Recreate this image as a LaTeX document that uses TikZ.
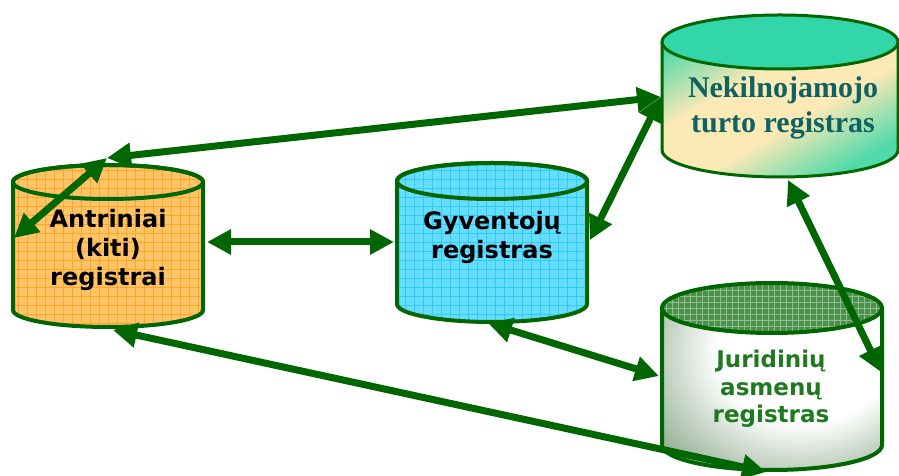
\documentclass[tikz,border=0pt]{standalone}
\usepackage{fontspec}
\usetikzlibrary{arrows.meta}
\newfontfamily\regsans{DejaVu Sans}
\newfontfamily\regserif{Liberation Serif}
\definecolor{dkgreen}{HTML}{006600}
\definecolor{afill}{HTML}{FFC468}
\definecolor{agrid}{HTML}{FFA624}
\definecolor{gfill}{HTML}{66DDFF}
\definecolor{ggrid}{HTML}{2ECBF5}
\definecolor{nktop}{HTML}{33D6A8}
\definecolor{nkcream}{HTML}{FCE9B6}
\definecolor{nktext}{HTML}{0E6262}
\definecolor{jtop}{HTML}{4E8F4E}
\definecolor{jgrid}{HTML}{8CC08C}
\definecolor{jtext}{HTML}{1E7A1E}
\definecolor{jedge}{HTML}{3F6F3F}
\pgfdeclareradialshading{jurshade}{\pgfpoint{10bp}{10bp}}{color(0bp)=(white); color(20bp)=(white);
	color(40bp)=(jedge!60); color(58bp)=(jedge); color(80bp)=(jedge)}
\pgfdeclareverticalshading{nekshade}{100bp}{color(0bp)=(nktop); color(34bp)=(nktop!85!nkcream);
	color(45bp)=(nkcream); color(55bp)=(nkcream); color(66bp)=(nktop!85!nkcream); color(100bp)=(nktop)}
\tikzset{
	cylline/.style={draw=dkgreen, line width=4pt},
	link/.style={draw=dkgreen, line width=7pt,
		{Triangle[length=24pt,width=24pt]}-{Triangle[length=24pt,width=24pt]}},
	sanslabel/.style={align=center, font=\regsans\bfseries\fontsize{24}{29}\selectfont},
}
\begin{document}
\begin{tikzpicture}[x=1pt, y=1pt, line join = round, line cap = round]
				\useasboundingbox (0,0) rectangle (899,476);
				% Antriniai registrai
				\fill[afill] (13,294) -- (13,166) arc[start angle=180, end angle=360, x radius=95pt, y radius=17pt]
					-- (203,294) arc[start angle=0, end angle=180, x radius=95pt, y radius=17pt] -- cycle;
				\begin{scope}
					\clip (13,294) -- (13,166) arc[start angle=180, end angle=360, x radius=95pt, y radius=17pt]
						-- (203,294) arc[start angle=0, end angle=180, x radius=95pt, y radius=17pt] -- cycle;
					\draw[agrid, line width=0.7pt, step=9pt] (0,140) grid (220,320);
				\end{scope}
				\draw[cylline] (13,294) -- (13,166) arc[start angle=180, end angle=360, x radius=95pt, y radius=17pt]
					-- (203,294) arc[start angle=0, end angle=180, x radius=95pt, y radius=17pt] -- cycle;
				\draw[cylline] (108,294) ellipse[x radius=95pt, y radius=17pt];
				% Gyventoju registras
				\fill[gfill] (397,295) -- (397,172) arc[start angle=180, end angle=360, x radius=95pt, y radius=18pt]
					-- (587,295) arc[start angle=0, end angle=180, x radius=95pt, y radius=18pt] -- cycle;
				\begin{scope}
					\clip (397,295) -- (397,172) arc[start angle=180, end angle=360, x radius=95pt, y radius=18pt]
						-- (587,295) arc[start angle=0, end angle=180, x radius=95pt, y radius=18pt] -- cycle;
					\draw[ggrid, line width=0.7pt, step=9pt] (390,140) grid (600,320);
				\end{scope}
				\draw[cylline] (397,295) -- (397,172) arc[start angle=180, end angle=360, x radius=95pt, y radius=18pt]
					-- (587,295) arc[start angle=0, end angle=180, x radius=95pt, y radius=18pt] -- cycle;
				\draw[cylline] (492,295) ellipse[x radius=95pt, y radius=18pt];
				% Nekilnojamojo turto registras
				\begin{scope}
					\clip (662,434) -- (662,326) arc[start angle=180, end angle=360, x radius=118pt, y radius=27pt]
						-- (898,434) arc[start angle=0, end angle=180, x radius=118pt, y radius=27pt] -- cycle;
					\shade[shading=nekshade, transform canvas={rotate around={30:(780,380)}}] (630,230) rectangle (930,530);
				\end{scope}
				\draw[draw=dkgreen, line width=3pt] (662,434) -- (662,326) arc[start angle=180, end angle=360, x radius=118pt, y radius=27pt]
					-- (898,434);
				\draw[draw=dkgreen, line width=3pt, fill=nktop] (780,434) ellipse[x radius=118pt, y radius=27pt];
				% Juridiniu asmenu registras
				\shade[shading=jurshade]
					(662,168) -- (662,31) arc[start angle=180, end angle=360, x radius=110pt, y radius=25pt]
					-- (882,168) arc[start angle=0, end angle=180, x radius=110pt, y radius=25pt] -- cycle;
				\fill[jtop] (772,168) ellipse[x radius=110pt, y radius=25pt];
				\begin{scope}
					\clip (772,168) ellipse[x radius=110pt, y radius=25pt];
					\draw[jgrid, line width=0.7pt, step=6pt] (650,130) grid (890,200);
				\end{scope}
				\draw[cylline] (662,168) -- (662,31) arc[start angle=180, end angle=360, x radius=110pt, y radius=25pt]
					-- (882,168);
				\draw[cylline] (772,168) ellipse[x radius=110pt, y radius=25pt];
				% labels
				\node[sanslabel] (antr) at (108,226) {Antriniai\\(kiti)\\registrai};
				\node[sanslabel] (gyv) at (492,239) {Gyventojų\\registras};
				\node[align=center, text=nktext, font=\regserif\bfseries\fontsize{30}{35}\selectfont] (nek) at (783,368) {Nekilnojamojo\\turto registras};
				\node[sanslabel, text=jtext, font=\regsans\bfseries\fontsize{23}{27.5}\selectfont] (jur) at (771,87) {Juridinių\\asmenų\\registras};
				% connector ends
				\path (107,318) coordinate (antrtop)
					(14,238) coordinate (antrleft)
					(207,234) coordinate (antrright)
					(113,146) coordinate (antrbot)
					(394,234) coordinate (gyvleft)
					(590,236) coordinate (gyvright)
					(488,153) coordinate (gyvbot)
					(661,379) coordinate (nekleft)
					(788,296) coordinate (nekbot)
					(659,100) coordinate (jurleft)
					(881,104) coordinate (jurright)
					(766,4) coordinate (jurbot);
				\draw[link] (antrtop) -- (nekleft);
				\draw[link] (antrtop) -- (antrleft);
				\draw[link] (antrright) -- (gyvleft);
				\draw[link] (gyvright) -- (nekleft);
				\draw[link] (gyvbot) -- (jurleft);
				\draw[link] (antrbot) -- (jurbot);
				\draw[link] (nekbot) -- (jurright);
			\end{tikzpicture}
\end{document}
